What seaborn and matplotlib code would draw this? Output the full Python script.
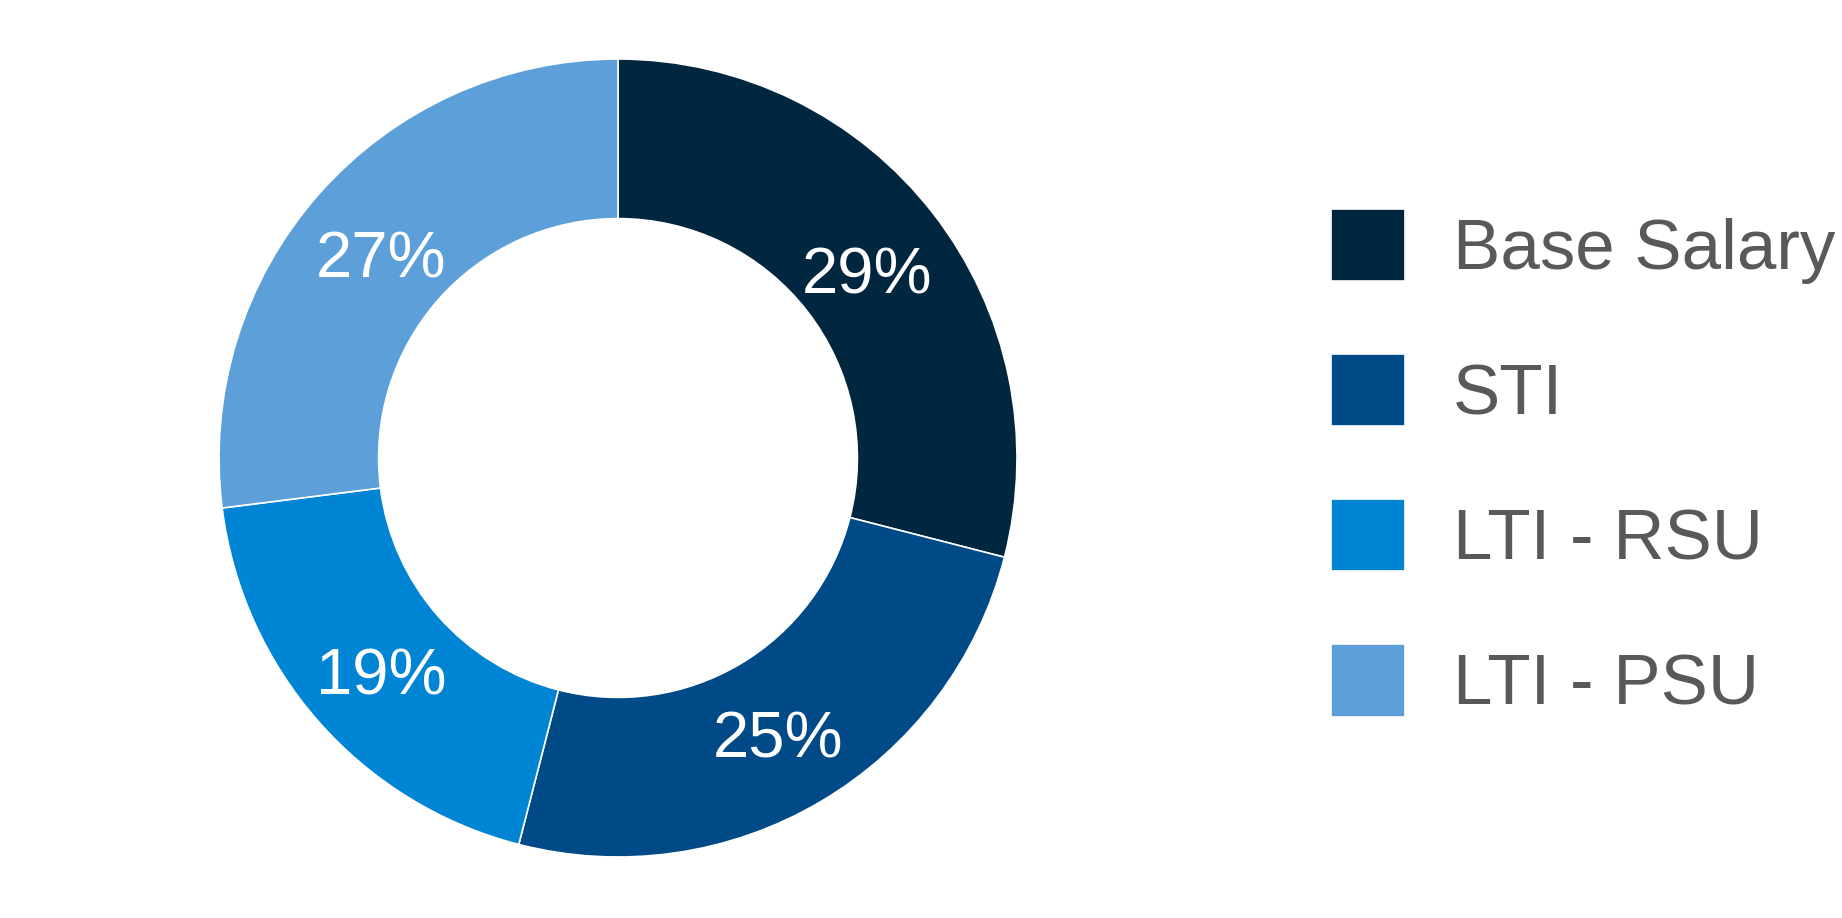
import matplotlib
matplotlib.use("Agg")
import matplotlib.pyplot as plt
import seaborn as sns
import numpy as np

categories = ["Base Salary", "STI", "LTI - RSU", "LTI - PSU"]
values = [29, 25, 19, 27]
pct_labels = ["29%", "25%", "19%", "27%"]
colors = ["#012640", "#004A87", "#0084D4", "#5DA0D9"]

sns.set_theme(style="white")
plt.rcParams['font.family'] = ['Liberation Sans', 'DejaVu Sans']

W, H = 1842, 918
fig = plt.figure(figsize=(W / 100, H / 100), dpi=100)
cx, cy, r = 618, 458, 399
ax = fig.add_axes([(cx - r) / W, (H - cy - r) / H, 2 * r / W, 2 * r / H])

palette = sns.color_palette(colors)
wedges, _ = ax.pie(values, colors=palette, startangle=90, counterclock=False,
                   radius=1, wedgeprops=dict(width=0.4, edgecolor="white", linewidth=1.2))
start = 90.0
total = sum(values)
for v, lab in zip(values, pct_labels):
    span = 360.0 * v / total
    mid = np.deg2rad(start - span / 2)
    start -= span
    ax.text(0.79 * np.cos(mid), 0.79 * np.sin(mid) - 0.012, lab, ha="center",
            va="center_baseline", color="white", fontsize=47)
ax.set_xlim(-1, 1)
ax.set_ylim(-1, 1)
ax.set_aspect("equal")
ax.axis("off")

leg = fig.legend(wedges, categories, loc="upper left",
                 bbox_to_anchor=(1331 / W, 1 - 209 / H),
                 frameon=False, fontsize=51, handlelength=1.047, handleheight=1.19,
                 handletextpad=0.67, labelspacing=0.99, borderpad=0, borderaxespad=0,
                 labelcolor="#595959")

fig.savefig("out.png", dpi=100)
